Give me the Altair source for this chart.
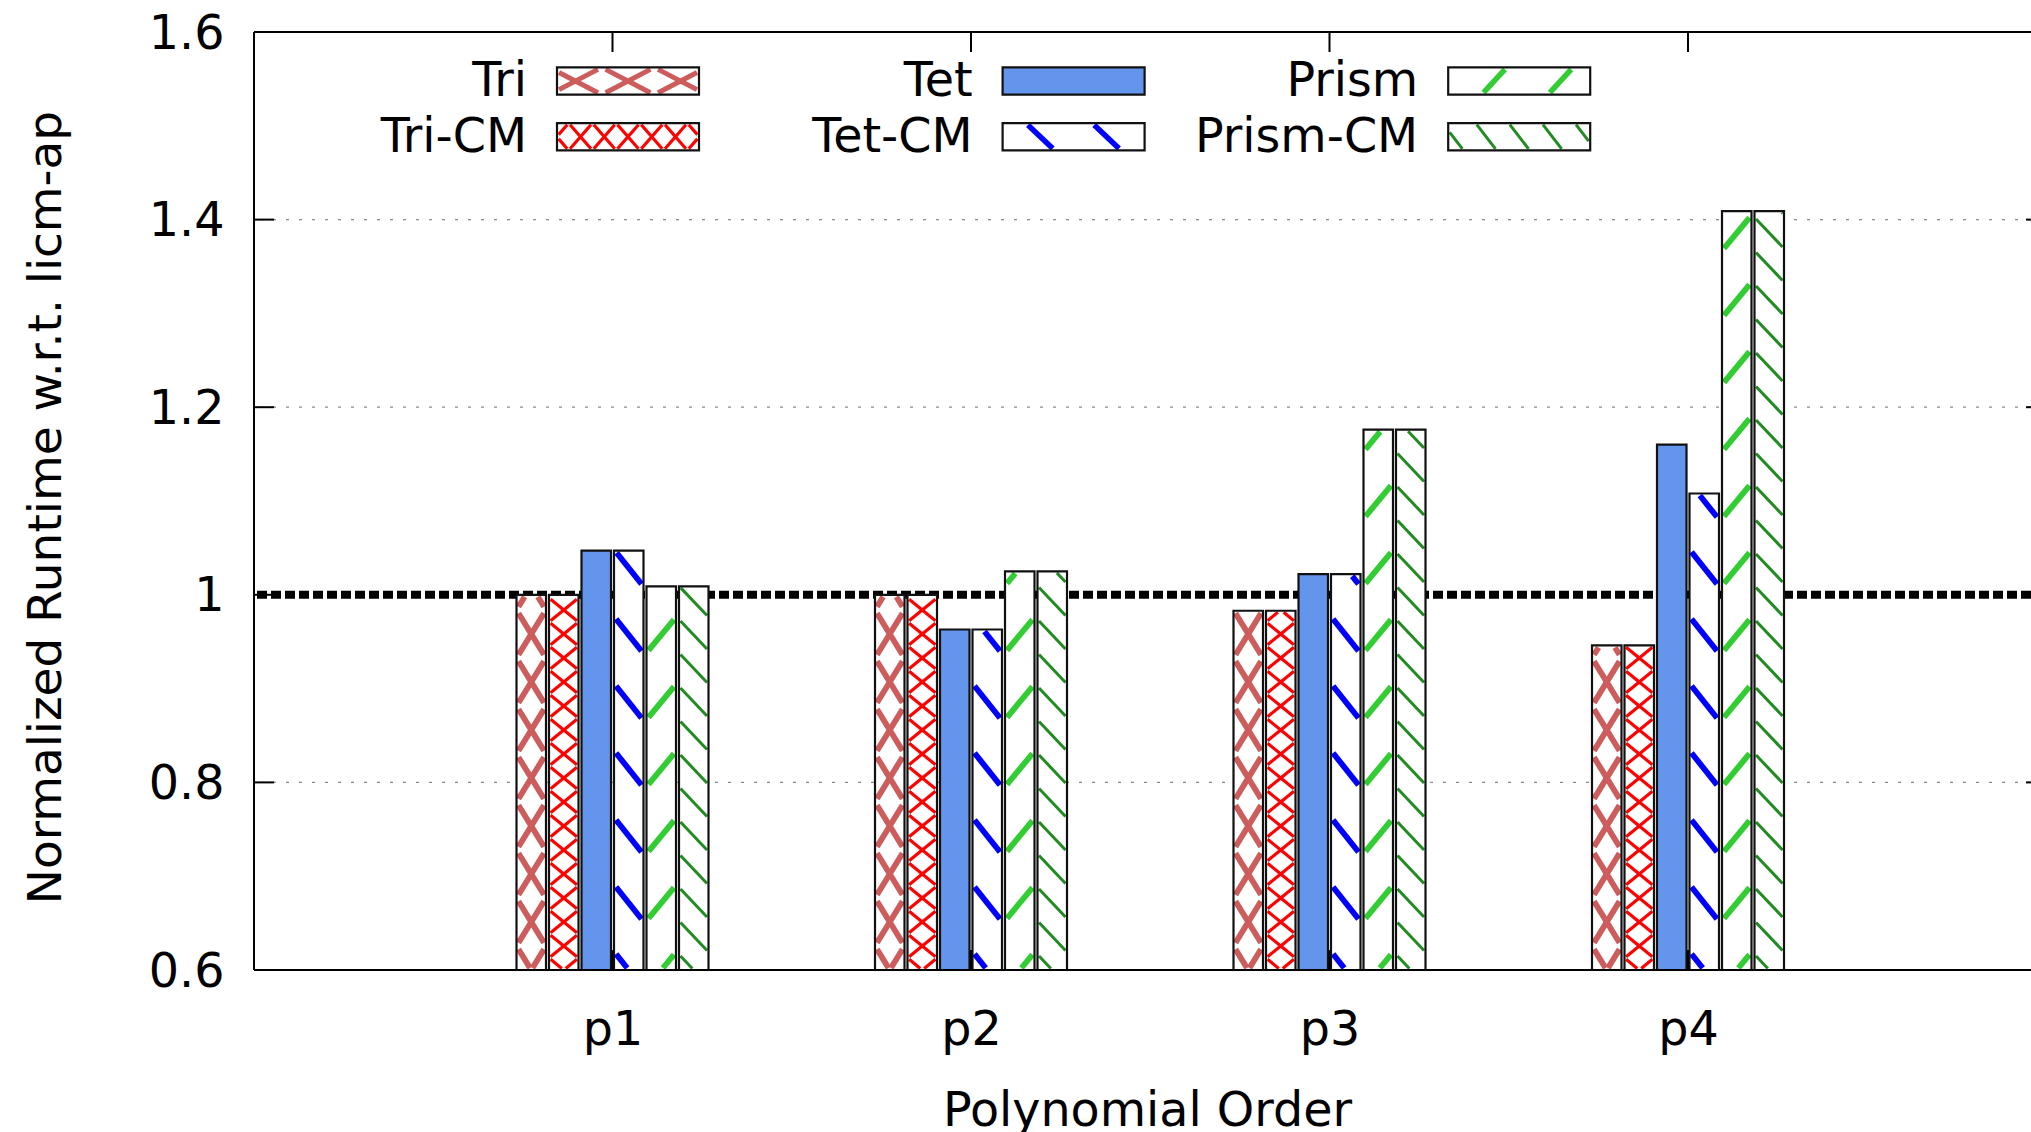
import json
import numpy as np
import pandas as pd
import altair as alt

# ---------------- data ----------------
categories = ["p1", "p2", "p3", "p4"]
series = ["Tri", "Tri-CM", "Tet", "Tet-CM", "Prism", "Prism-CM"]
tri = [1.000, 1.000, 0.983, 0.946]
tri_cm = [1.000, 1.000, 0.983, 0.946]
tet = [1.047, 0.963, 1.022, 1.160]
tet_cm = [1.047, 0.963, 1.022, 1.108]
prism = [1.009, 1.025, 1.176, 1.409]
prism_cm = [1.009, 1.025, 1.176, 1.409]
y_ticks = [0.6, 0.8, 1.0, 1.2, 1.4, 1.6]
grid_values = [0.8, 1.2, 1.4]
reference_value = 1.0
x_title = "Polynomial Order"
y_title = "Normalized Runtime w.r.t. licm-ap"

values = {"Tri": tri, "Tri-CM": tri_cm, "Tet": tet, "Tet-CM": tet_cm,
          "Prism": prism, "Prism-CM": prism_cm}

# ---------------- layout / style ----------------
FONT = "DejaVu Sans"
FS = 47.6
PAD_L, PAD_T = 254, 32
W, H = 1777, 938
CAT_PX = 358.5
XMAX = W / CAT_PX
YMIN, YMAX = 0.6, 1.6
PX_Y = H / (YMAX - YMIN)
BAR_W, BAR_PITCH = 29.5, 32.5
TICK_LEN = 20
FRAME_RIGHT_PX = 2046

# hatch families: (slope dy/dx in screen px, vertical period px, line width px, x phase px)
styles = {
    "Tri": dict(fill="white", color="#CD5C5C",
                hatch=[(1.63, 48, 5.8, 0), (-1.63, 48, 5.8, 0)],
                leg=[(0.52, 27.3, 5.0, 0), (-0.52, 27.3, 5.0, 0)]),
    "Tri-CM": dict(fill="white", color="#FF0000",
                   hatch=[(0.81, 24, 3.2, 0), (-0.81, 24, 3.2, 0)],
                   leg=[(1.15, 27.3, 3.2, 0), (-1.15, 27.3, 3.2, 0)]),
    "Tet": dict(fill="#6495ED", color="#6495ED", hatch=[], leg=[]),
    "Tet-CM": dict(fill="white", color="#0000FF",
                   hatch=[(1.26, 67, 5.8, 0)], leg=[(0.94, 62.3, 5.5, 33)]),
    "Prism": dict(fill="white", color="#32CD32",
                  hatch=[(-1.2, 67, 5.8, 0)], leg=[(-1.09, 72.3, 5.5, -25)]),
    "Prism-CM": dict(fill="white", color="#228B22",
                     hatch=[(1.05, 33.5, 3.0, 0)], leg=[(1.3, 43, 3.0, 0)]),
}


def px2x(px):
    return (px - PAD_L) / CAT_PX


def py2y(py):
    return YMAX - (py - PAD_T) / PX_Y


def y2py(y):
    return PAD_T + (YMAX - y) * PX_Y


def x2px(x):
    return PAD_L + x * CAT_PX


def hatch(x0, x1, y0, y1, slope, period, cx, cy, inset):
    ax0, ax1, ay0, ay1 = x0 + inset, x1 - inset, y0 + inset, y1 - inset
    segs = []
    vals = [(yy - slope * (xx - cx) - cy) / period for xx in (ax0, ax1) for yy in (ay0, ay1)]
    kmin, kmax = int(np.floor(min(vals))) - 1, int(np.ceil(max(vals))) + 1
    for k in range(kmin, kmax + 1):
        off = cy + k * period
        xa = cx + (ay0 - off) / slope
        xb = cx + (ay1 - off) / slope
        lo, hi = max(min(xa, xb), ax0), min(max(xa, xb), ax1)
        if hi - lo > 0.5:
            segs.append((lo, slope * (lo - cx) + off, hi, slope * (hi - cx) + off))
    return segs


# ---------------- bars ----------------
bar_rows, hatch_rows = [], []
for i, cat in enumerate(categories):
    for j, s in enumerate(series):
        v = values[s][i]
        xc = (i + 1) + (j - 2.5) * BAR_PITCH / CAT_PX
        half = BAR_W / 2 / CAT_PX
        bar_rows.append(dict(category=cat, series=s, x=xc - half, x2=xc + half,
                             y=YMIN, y2=v, fill=styles[s]["fill"]))
        px0, px1 = x2px(xc - half), x2px(xc + half)
        py0, py1 = y2py(v), y2py(YMIN)
        for slope, period, w, ph in styles[s]["hatch"]:
            for (a, b, c, d) in hatch(px0, px1, py0, py1, slope, period,
                                      (px0 + px1) / 2 + ph, py1, min(w / 2, 2.0)):
                hatch_rows.append(dict(x=px2x(a), y=py2y(b), x2=px2x(c), y2=py2y(d),
                                       color=styles[s]["color"], w=w))
bars = pd.DataFrame(bar_rows)
hatches = pd.DataFrame(hatch_rows)

# ---------------- legend (drawn as marks) ----------------
LEG_BOX_L, LEG_COL_DX = 557, 445.6
LEG_BOX_T, LEG_ROW_DY = 67.4, 55.7
LEG_BOX_W, LEG_BOX_H = 142, 27.3
LEG_TEXT_GAP = 30
LEG_BASE = 96
leg_rows, leg_hatch_rows = [], []
for j, s in enumerate(series):
    col, row = j // 2, j % 2
    bl = LEG_BOX_L + col * LEG_COL_DX
    bt = LEG_BOX_T + row * LEG_ROW_DY
    br, bb = bl + LEG_BOX_W, bt + LEG_BOX_H
    leg_rows.append(dict(series=s, x=px2x(bl), x2=px2x(br), y=py2y(bb), y2=py2y(bt),
                         fill=styles[s]["fill"], tx=px2x(bl - LEG_TEXT_GAP),
                         ty=py2y(LEG_BASE + row * LEG_ROW_DY)))
    for slope, period, w, ph in styles[s]["leg"]:
        for (a, b, c, d) in hatch(bl, br, bt, bb, slope, period,
                                  (bl + br) / 2 + ph, (bt + bb) / 2, min(w / 2, 2.0)):
            leg_hatch_rows.append(dict(x=px2x(a), y=py2y(b), x2=px2x(c), y2=py2y(d),
                                       color=styles[s]["color"], w=w))
legend = pd.DataFrame(leg_rows)
leg_hatches = pd.DataFrame(leg_hatch_rows)

# ---------------- frame ticks (inward, gnuplot style) ----------------
tick_rows = []
ty_len = TICK_LEN / PX_Y
tx_len = TICK_LEN / CAT_PX
for i, _ in enumerate(categories):
    tick_rows.append(dict(x=i + 1, x2=i + 1, y=YMIN, y2=YMIN + ty_len))
    tick_rows.append(dict(x=i + 1, x2=i + 1, y=YMAX, y2=YMAX - ty_len))
for t in y_ticks:
    tick_rows.append(dict(x=0, x2=tx_len, y=t, y2=t))
    tick_rows.append(dict(x=px2x(FRAME_RIGHT_PX - TICK_LEN), x2=XMAX, y=t, y2=t))
ticks = pd.DataFrame(tick_rows)

# ---------------- scales / axes ----------------
xs = alt.Scale(domain=[0, XMAX], nice=False, zero=False)
ys = alt.Scale(domain=[YMIN, YMAX], nice=False, zero=False)

label_list = json.dumps([""] + categories)
x_axis = alt.Axis(values=list(range(1, len(categories) + 1)),
                  labelExpr=f"{label_list}[datum.value]",
                  ticks=False, tickSize=0, domain=False, grid=False,
                  labelPadding=36, labelFont=FONT, labelFontSize=FS, labelColor="black",
                  title=x_title, titleFont=FONT, titleFontSize=FS, titleFontWeight="normal",
                  titleColor="black", titleX=893, titleY=155, titleBaseline="alphabetic",
                  titleAlign="center")
y_axis = alt.Axis(values=y_ticks,
                  labelExpr="datum.value == 1 ? '1' : format(datum.value, '.1f')",
                  ticks=False, tickSize=0, domain=False, grid=False,
                  labelPadding=30, labelOffset=2, labelFont=FONT, labelFontSize=FS,
                  labelColor="black",
                  title=y_title, titleFont=FONT, titleFontSize=47, titleFontWeight="normal",
                  titleColor="black", titleX=-194, titleY=475, titleAngle=270,
                  titleBaseline="alphabetic", titleAlign="center")


def X(field):
    return alt.X(field, scale=xs, axis=x_axis)


def Y(field):
    return alt.Y(field, scale=ys, axis=y_axis)


grid = alt.Chart(pd.DataFrame({"g": grid_values})).mark_rule(
    color="#8a8a8a", strokeWidth=1.3, strokeDash=[3, 10]
).encode(y=Y("g:Q"))

ref_line = alt.Chart(pd.DataFrame({"r": [reference_value]})).mark_rule(
    color="black", strokeWidth=8, strokeDash=[10, 4]
).encode(y=Y("r:Q"))


def rects(df, **kw):
    return alt.Chart(df).mark_rect(**kw).encode(
        x=X("x:Q"), x2="x2:Q", y=Y("y:Q"), y2="y2:Q")


def hatch_layer(df):
    return alt.Chart(df).mark_rule(strokeCap="butt").encode(
        x=X("x:Q"), x2="x2:Q", y=Y("y:Q"), y2="y2:Q",
        color=alt.Color("color:N", scale=None),
        strokeWidth=alt.StrokeWidth("w:Q", scale=None))


bar_fill = rects(bars).encode(fill=alt.Fill("fill:N", scale=None))
bar_hatch = hatch_layer(hatches)
bar_outline = rects(bars, fillOpacity=0, stroke="#111111", strokeWidth=2.2)

frame_left = alt.Chart(pd.DataFrame({"x": [0]})).mark_rule(
    color="black", strokeWidth=2).encode(x=X("x:Q"))
frame_hz = alt.Chart(pd.DataFrame({"y": [YMIN, YMAX]})).mark_rule(
    color="black", strokeWidth=2).encode(y=Y("y:Q"))
tick_layer = alt.Chart(ticks).mark_rule(color="black", strokeWidth=2).encode(
    x=X("x:Q"), x2="x2:Q", y=Y("y:Q"), y2="y2:Q")

leg_fill = rects(legend).encode(fill=alt.Fill("fill:N", scale=None))
leg_hatch = hatch_layer(leg_hatches)
leg_outline = rects(legend, fillOpacity=0, stroke="#111111", strokeWidth=2.2)
leg_text = alt.Chart(legend).mark_text(
    align="right", baseline="alphabetic", font=FONT, fontSize=FS, color="black"
).encode(x=X("tx:Q"), y=Y("ty:Q"), text="series:N")

chart = alt.layer(
    grid, ref_line, bar_fill, bar_hatch, bar_outline,
    frame_left, frame_hz, tick_layer,
    leg_fill, leg_hatch, leg_outline, leg_text,
).properties(
    width=W, height=H,
    autosize=alt.AutoSizeParams(type="none"),
    padding={"left": PAD_L, "top": PAD_T, "right": 0, "bottom": 1132 - PAD_T - H},
    background="white",
).configure_view(stroke="transparent")

chart.save("out.html", embed_options={"renderer": "svg", "actions": False})
